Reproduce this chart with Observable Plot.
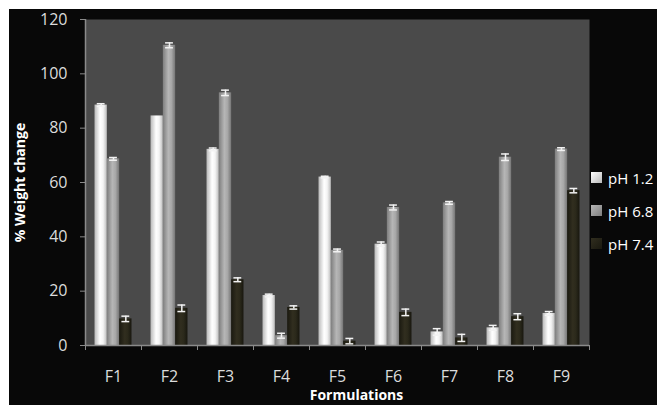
<!DOCTYPE html>
<html>
<head>
<meta charset="utf-8">
<script src="https://cdn.jsdelivr.net/npm/d3@7"></script>
<script src="https://cdn.jsdelivr.net/npm/@observablehq/plot@0.6"></script>
<style>
  html, body { margin: 0; padding: 0; background: #ffffff; }
  #wrap { position: relative; width: 657px; height: 405px; overflow: hidden; }
  #chart { position: absolute; left: 9px; top: 9px; }
  .leg { position: absolute; left: 591px; display: flex; align-items: center; font-family: "Open Sans", sans-serif; font-size: 15px; color: #ffffff; }
  .leg span.sw { width: 11px; height: 11px; margin-right: 6px; display: inline-block; }
</style>
</head>
<body>
<div id="wrap">
  <div id="chart"></div>
</div>
<script>
const categories = ["F1", "F2", "F3", "F4", "F5", "F6", "F7", "F8", "F9"];
const seriesNames = ["pH 1.2", "pH 6.8", "pH 7.4"];
const ph12 = [88.5, 84.5, 72.2, 18.4, 62.0, 37.3, 5.0, 6.5, 11.8];
const ph12Err = [0.5, 0, 0.5, 0.5, 0.3, 0.8, 1.2, 0.9, 0.7];
const ph68 = [68.7, 110.5, 93.0, 3.6, 35.0, 50.8, 52.5, 69.3, 72.3];
const ph68Err = [0.5, 0.9, 1.0, 0.9, 0.5, 0.9, 0.5, 1.2, 0.5];
const ph74 = [9.8, 13.7, 24.2, 14.0, 1.6, 12.2, 2.8, 10.6, 57.0];
const ph74Err = [1.0, 1.2, 0.7, 0.6, 1.0, 1.2, 1.3, 1.1, 0.8];
const yTicks = [0, 20, 40, 60, 80, 100, 120];

const values = [ph12, ph68, ph74];
const errors = [ph12Err, ph68Err, ph74Err];
const fills = ["url(#g0)", "url(#g1)", "url(#g2)"];

// layout within each category slot (slot = 1 unit on x)
const groupStart = 0.17, barW = 0.22, capHalf = 0.07;

const rows = categories.flatMap((c, i) => seriesNames.map((s, k) => ({
  cat: c, i, k, s,
  v: values[k][i],
  e: errors[k][i],
  x1: i + groupStart + k * barW,
  x2: i + groupStart + (k + 1) * barW,
  xc: i + groupStart + (k + 0.5) * barW
})));
const errRows = rows.filter(d => d.e > 0);

const font = "'Open Sans', sans-serif";

const plot = Plot.plot({
  width: 648,
  height: 396,
  marginLeft: 76,
  marginRight: 68,
  marginTop: 10,
  marginBottom: 60,
  style: { background: "#080808", color: "#dcdcdc", fontFamily: font, fontSize: "16px" },
  x: { type: "linear", domain: [0, categories.length], axis: null },
  y: { domain: [0, 120], axis: null },
  marks: [
    Plot.frame({ fill: "#4a4a4a", stroke: "none" }),
    ...seriesNames.map((s, k) =>
      Plot.rectY(rows.filter(d => d.k === k), { x1: "x1", x2: "x2", y: "v", fill: fills[k] })
    ),
    Plot.ruleX(errRows, { x: "xc", y1: d => d.v - d.e, y2: d => d.v + d.e, stroke: "#f2f2f2", strokeWidth: 1.5 }),
    Plot.ruleY(errRows, { y: d => d.v + d.e, x1: d => d.xc - capHalf, x2: d => d.xc + capHalf, stroke: "#f2f2f2", strokeWidth: 1.5 }),
    Plot.ruleY(errRows, { y: d => d.v - d.e, x1: d => d.xc - capHalf, x2: d => d.xc + capHalf, stroke: "#f2f2f2", strokeWidth: 1.5 }),
    Plot.axisY({ ticks: yTicks, tickSize: 5, tickPadding: 13, stroke: "#8a8a8a", fill: "#dcdcdc", fontSize: 16, label: null }),
    Plot.axisX({ ticks: d3.range(0, categories.length + 1), tickSize: 5, tickFormat: () => "", stroke: "#8a8a8a", label: null }),
    Plot.axisX({ ticks: categories.map((c, i) => i + 0.5), tickSize: 0, tickPadding: 25, tickFormat: t => categories[Math.floor(t)], fill: "#dcdcdc", fontSize: 16, label: null }),
    Plot.ruleX([0], { stroke: "#8a8a8a", strokeWidth: 1.5 }),
    Plot.ruleY([0], { stroke: "#8a8a8a", strokeWidth: 1.5 }),
    Plot.text(["% Weight change"], { text: d => d, frameAnchor: "left", dx: -65, rotate: -90, fill: "#ffffff", fontWeight: "bold", fontSize: 14, textAnchor: "middle", lineAnchor: "middle" }),
    Plot.text(["Formulations"], { text: d => d, frameAnchor: "bottom", dx: 19, dy: 50, fill: "#ffffff", fontWeight: "bold", fontSize: 14, textAnchor: "middle", lineAnchor: "middle" })
  ]
});

// gradient definitions for the shaded bars
const ns = "http://www.w3.org/2000/svg";
const defs = document.createElementNS(ns, "defs");
const grads = [
  [["0", "#b9b9b9"], ["0.45", "#ffffff"], ["0.7", "#f4f4f4"], ["1", "#bcbcbc"]],
  [["0", "#7e7e7e"], ["0.45", "#b6b6b6"], ["0.7", "#a8a8a8"], ["1", "#767676"]],
  [["0", "#1a1910"], ["0.45", "#312e1f"], ["0.7", "#2b291b"], ["1", "#18170f"]]
];
grads.forEach((stops, k) => {
  const g = document.createElementNS(ns, "linearGradient");
  g.setAttribute("id", "g" + k);
  g.setAttribute("x1", "0"); g.setAttribute("x2", "1");
  g.setAttribute("y1", "0"); g.setAttribute("y2", "0");
  stops.forEach(([o, c]) => {
    const st = document.createElementNS(ns, "stop");
    st.setAttribute("offset", o);
    st.setAttribute("stop-color", c);
    g.appendChild(st);
  });
  defs.appendChild(g);
});
plot.insertBefore(defs, plot.firstChild);
document.getElementById("chart").appendChild(plot);

// legend
const legendTops = [172, 205, 238];
const wrap = document.getElementById("wrap");
seriesNames.forEach((s, k) => {
  const item = document.createElement("div");
  item.className = "leg";
  item.style.top = (legendTops[k] - 4) + "px";
  item.style.height = "19px";
  const sw = document.createElement("span");
  sw.className = "sw";
  const st = grads[k];
  sw.style.background = `linear-gradient(135deg, ${st[1][1]}, ${st[0][1]})`;
  const tx = document.createElement("span");
  tx.textContent = s;
  item.appendChild(sw);
  item.appendChild(tx);
  wrap.appendChild(item);
});
</script>
</body>
</html>
